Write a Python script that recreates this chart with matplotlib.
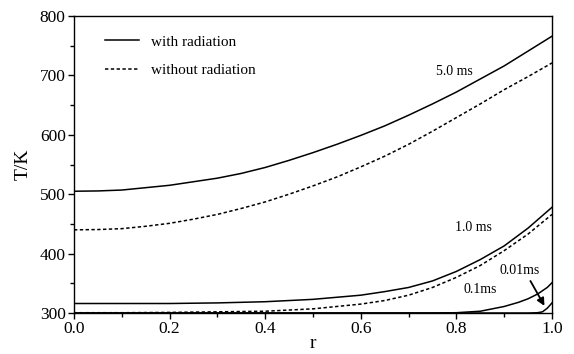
import numpy as np
import matplotlib
matplotlib.use('Agg')
import matplotlib.pyplot as plt
from matplotlib.ticker import MultipleLocator, FormatStrFormatter

plt.rcParams['font.family'] = ['Liberation Serif', 'DejaVu Serif']

# 5.0 ms curves
r_5ms = [0.0, 0.05, 0.1, 0.15, 0.2, 0.25, 0.3, 0.35, 0.4, 0.45, 0.5,
         0.55, 0.6, 0.65, 0.7, 0.75, 0.8, 0.85, 0.9, 0.95, 1.0]
T_5ms_rad = [505, 505.5, 507, 511, 515, 521, 527, 535, 545, 557, 570,
             584, 599, 615, 633, 652, 672, 694, 716, 741, 766]
T_5ms_norad = [440, 440.5, 442, 446, 451, 458, 466, 476, 487, 500, 514,
               529, 546, 564, 584, 606, 629, 652, 676, 698, 721]

# 1.0 ms curves
r_1ms = [0.0, 0.1, 0.2, 0.3, 0.4, 0.5, 0.6, 0.65, 0.7, 0.75, 0.8, 0.85, 0.9, 0.95, 1.0]
T_1ms_rad = [316, 316, 316, 317, 319, 323, 330, 336, 343, 354, 370, 390, 413, 443, 478]
T_1ms_norad = [300.5, 300.5, 301, 302, 303, 307, 315, 321, 330, 343, 360, 380, 405, 433, 466]

# 0.1 ms
r_01ms = [0.0, 0.75, 0.8, 0.85, 0.9, 0.93, 0.95, 0.97, 0.99, 1.0]
T_01ms = [300, 300, 300.5, 303, 311, 318, 324, 332, 343, 351]

# 0.01 ms
r_001ms = [0.0, 0.95, 0.97, 0.98, 0.99, 1.0]
T_001ms = [300, 300, 300.5, 302, 308, 317]

fig = plt.figure(figsize=(5.74, 3.54), dpi=100)
ax = fig.add_axes([0.1289, 0.1158, 0.8328, 0.839])

dash = (0, (2.2, 1.6))
ax.plot(r_5ms, T_5ms_rad, 'k-', lw=1.1, label='with radiation')
ax.plot(r_5ms, T_5ms_norad, color='k', ls=dash, lw=1.1, label='without radiation')
ax.plot(r_1ms, T_1ms_rad, 'k-', lw=1.1)
ax.plot(r_1ms, T_1ms_norad, color='k', ls=dash, lw=1.1)
ax.plot(r_01ms, T_01ms, 'k-', lw=1.1)
ax.plot(r_001ms, T_001ms, 'k-', lw=1.1)

# curve labels
ax.text(0.795, 706, '5.0 ms', fontsize=10, ha='center', va='center')
ax.text(0.835, 444, '1.0 ms', fontsize=10, ha='center', va='center')
ax.text(0.849, 339, '0.1ms', fontsize=10, ha='center', va='center')
ax.text(0.933, 371, '0.01ms', fontsize=10, ha='center', va='center')
ax.annotate('', xy=(0.987, 308), xytext=(0.952, 358),
            arrowprops=dict(arrowstyle='-|>', color='k', lw=1.3, mutation_scale=11))

ax.set_xlim(0.0, 1.0)
ax.set_ylim(300, 800)
ax.xaxis.set_major_locator(MultipleLocator(0.2))
ax.xaxis.set_minor_locator(MultipleLocator(0.1))
ax.yaxis.set_major_locator(MultipleLocator(100))
ax.yaxis.set_minor_locator(MultipleLocator(50))
ax.tick_params(which='both', direction='out', top=False, right=False, labelsize=12.5)
ax.tick_params(which='major', length=4, width=1, pad=2)
ax.tick_params(which='minor', length=3, width=1)
ax.xaxis.set_major_formatter(FormatStrFormatter('%.1f'))
for s in ax.spines.values():
    s.set_linewidth(1.0)

ax.set_xlabel('r', fontsize=14, labelpad=-2)
ax.set_ylabel('T/K', fontsize=14, labelpad=6)

ax.legend(loc='upper left', bbox_to_anchor=(0.036, 0.982), frameon=False,
          fontsize=11, handlelength=2.2, labelspacing=0.98, handletextpad=0.8)

fig.savefig('out.png', dpi=100)
